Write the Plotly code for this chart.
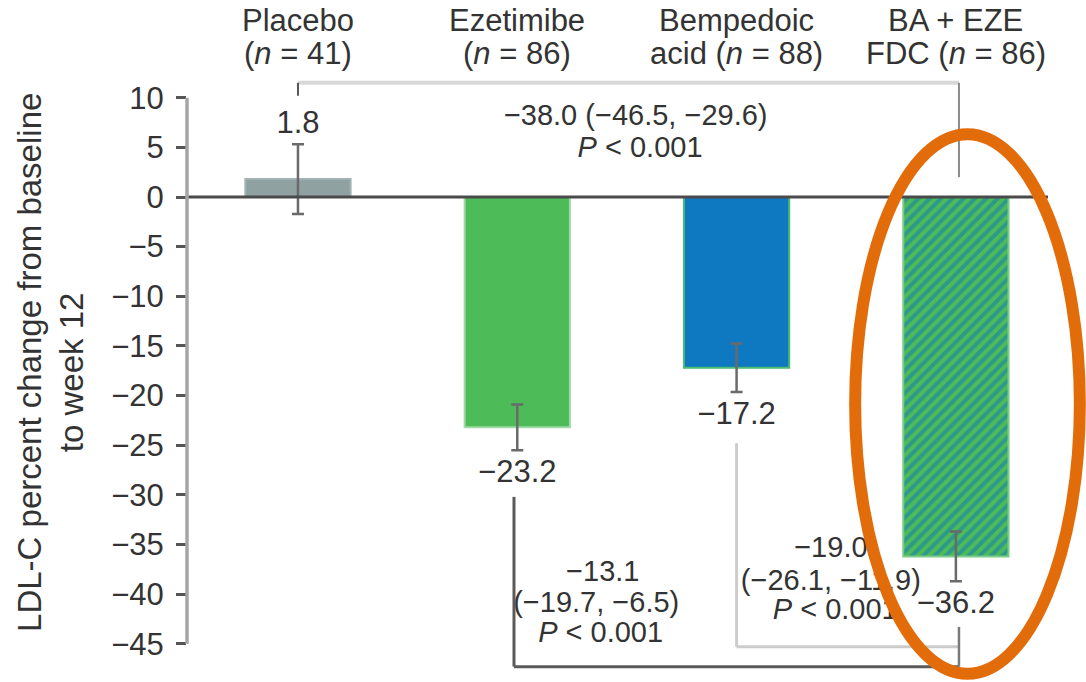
import plotly.graph_objects as go

# ---- data -------------------------------------------------------------
groups = ["Placebo", "Ezetimibe", "Bempedoic", "BA + EZE"]
group_prefix = ["", "", "acid ", "FDC "]
n_patients = [41, 86, 88, 86]
pct_change = [1.8, -23.2, -17.2, -36.2]
ci_half = [3.5, 2.3, 2.45, 2.5]

y_ticks = [10, 5, 0, -5, -10, -15, -20, -25, -30, -35, -40, -45]

# treatment differences vs the fixed-dose combination: (diff, lower, upper)
diff_vs_fdc = {
    "placebo": (-38.0, -46.5, -29.6),
    "ezetimibe": (-13.1, -19.7, -6.5),
    "bempedoic": (-19.0, -26.1, -11.9),
}
p_label = "<i>P</i> < 0.001"

# ---- styling ----------------------------------------------------------
FONT = "Liberation Sans, Arial, sans-serif"
TXT = "#333333"
GREEN = "#4CBB58"
BLUE = "#0E78C0"
bar_colors = ["#8FA1A1", GREEN, BLUE]
edge_colors = ["#A2B2B2", "#9FD9A5", "#4ABB70"]
ERR = dict(type="data", symmetric=True, color="#6A6A6A", thickness=2.5,
           width=6)


def fmt(v):
    return f"{v:.1f}".replace("-", "\u2212")


x_idx = list(range(len(groups)))
FDC = 3  # index of the combination arm

fig = go.Figure()

# monotherapy / placebo arms
fig.add_trace(go.Bar(
    x=x_idx[:FDC], y=pct_change[:FDC], width=0.48,
    marker=dict(color=bar_colors, line=dict(color=edge_colors, width=2)),
    error_y=dict(array=ci_half[:FDC], **ERR),
    showlegend=False, hoverinfo="skip",
))

# fixed-dose combination arm, hatched
fig.add_trace(go.Bar(
    x=x_idx[FDC:], y=pct_change[FDC:], width=0.48,
    marker=dict(
        color=GREEN,
        line=dict(color="#7CCB86", width=2),
        pattern=dict(shape="/", fgcolor=BLUE, size=8, solidity=0.5,
                     fillmode="overlay"),
    ),
    error_y=dict(array=ci_half[FDC:], **ERR),
    showlegend=False, hoverinfo="skip",
))

# value labels beyond the error bar ends
lab_y = []
for m, e in zip(pct_change, ci_half):
    lab_y.append(m + e + 1.9 if m >= 0 else m - e - 2.4)
fig.add_trace(go.Scatter(
    x=x_idx, y=lab_y, mode="text",
    text=[fmt(v) for v in pct_change],
    textposition="middle center",
    textfont=dict(family=FONT, size=31, color=TXT),
    showlegend=False, hoverinfo="skip", cliponaxis=False,
))

# comparison statistics
d, lo, hi = diff_vs_fdc["placebo"]
stat_x = [1.54, 1.56]
stat_y = [7.96, 4.73]
stat_t = [f"{fmt(d)} ({fmt(lo)}, {fmt(hi)})", p_label]
d, lo, hi = diff_vs_fdc["ezetimibe"]
stat_x += [1.39, 1.36, 1.38]
stat_y += [-37.9, -41.1, -44.1]
stat_t += [fmt(d), f"({fmt(lo)}, {fmt(hi)})", p_label]
d, lo, hi = diff_vs_fdc["bempedoic"]
stat_x += [2.43, 2.43, 2.45]
stat_y += [-35.5, -38.8, -41.8]
stat_t += [fmt(d), f"({fmt(lo)}, {fmt(hi)})", p_label]

fig.add_trace(go.Scatter(
    x=stat_x, y=stat_y, mode="text", text=stat_t,
    textposition="middle center",
    textfont=dict(family=FONT, size=29, color=TXT),
    showlegend=False, hoverinfo="skip", cliponaxis=False,
))

shapes = []


def seg(x0, y0, x1, y1, color, width):
    shapes.append(dict(type="line", xref="x", yref="y", x0=x0, y0=y0,
                       x1=x1, y1=y1, line=dict(color=color, width=width),
                       layer="above"))


FDC_X = 3.014
# placebo vs FDC bracket (top)
seg(0, 11.5, FDC_X, 11.5, "#D8D8D8", 4)
seg(0, 11.5, 0, 10.2, "#555555", 2)
seg(FDC_X, 11.5, FDC_X, 2.0, "#8A8A8A", 2)
# bempedoic acid vs FDC bracket
seg(2.0, -24.8, 2.0, -45.3, "#CCCCCC", 3)
seg(2.0, -45.3, FDC_X, -45.3, "#CCCCCC", 3)
# ezetimibe vs FDC bracket
seg(0.985, -30.2, 0.985, -47.3, "#5A5A5A", 3)
seg(0.985, -47.3, FDC_X, -47.3, "#5A5A5A", 3)
seg(FDC_X, -47.3, FDC_X, -43.3, "#7A7A7A", 2.5)

# zero line and y axis line
shapes.append(dict(type="line", xref="paper", yref="y", x0=0, x1=1,
                   y0=0, y1=0, line=dict(color="#4A4A4A", width=3),
                   layer="above"))
shapes.append(dict(type="line", xref="paper", yref="y", x0=0, x1=0,
                   y0=y_ticks[-1], y1=y_ticks[0],
                   line=dict(color="#A6A6A6", width=3.5), layer="above"))

# highlight around the combination arm
shapes.append(dict(type="circle", xref="paper", yref="paper",
                   x0=0.776, x1=1.037, y0=0.002, y1=0.894,
                   line=dict(color="#E36C0A", width=12),
                   fillcolor="rgba(0,0,0,0)", layer="above"))

annotations = []
for i, (g, pre, n) in enumerate(zip(groups, group_prefix, n_patients)):
    annotations.append(dict(x=i, y=1.114, xref="x", yref="paper",
                            text=g, showarrow=False,
                            font=dict(family=FONT, size=31, color=TXT)))
    annotations.append(dict(x=i, y=1.059, xref="x", yref="paper",
                            text=f"{pre}(<i>n</i> = {n})", showarrow=False,
                            font=dict(family=FONT, size=31, color=TXT)))

annotations.append(dict(x=-0.206, y=0.516, xref="paper", yref="paper",
                        text="LDL-C percent change from baseline",
                        textangle=-90, showarrow=False,
                        font=dict(family=FONT, size=33, color=TXT)))
annotations.append(dict(x=-0.157, y=0.501, xref="paper", yref="paper",
                        text="to week 12", textangle=-90, showarrow=False,
                        font=dict(family=FONT, size=33, color=TXT)))

fig.update_layout(
    width=1086, height=682,
    margin=dict(l=187, r=38, t=70, b=7),
    paper_bgcolor="white", plot_bgcolor="white",
    shapes=shapes, annotations=annotations,
    barmode="overlay",
    xaxis=dict(range=[-0.506, 3.42], visible=False, fixedrange=True),
    yaxis=dict(
        range=[-48.14, 12.79],
        tickvals=y_ticks,
        ticktext=[fmt(v).replace(".0", "") for v in y_ticks],
        ticks="outside", ticklen=10, tickwidth=3, tickcolor="#555555",
        tickfont=dict(family=FONT, size=31, color=TXT),
        showline=False, zeroline=False, showgrid=False,
        ticklabelstandoff=6, fixedrange=True,
    ),
)

fig.write_html("out.html")
